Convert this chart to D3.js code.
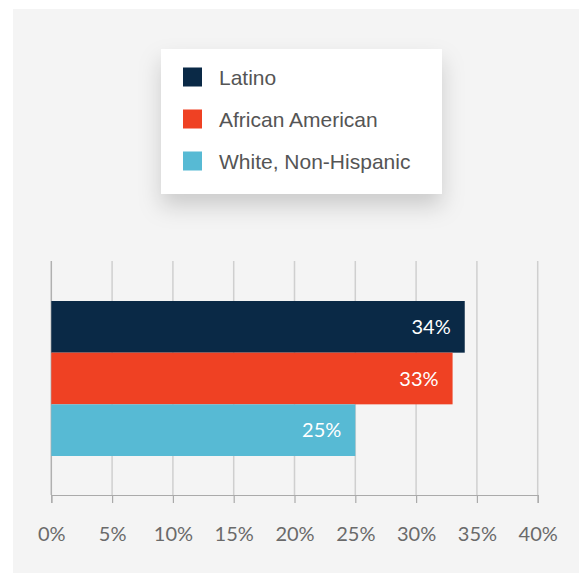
<!DOCTYPE html>
<html><head><meta charset="utf-8">
<script src="https://cdn.jsdelivr.net/npm/d3@7"></script>
<style>
html,body{margin:0;padding:0;background:#fff;}
svg{display:block;}
</style></head>
<body>
<svg id="chart" width="579" height="573"></svg>
<script>
const categories = ["Latino", "African American", "White, Non-Hispanic"];
const values = [34, 33, 25];
const colors = ["#0a2946", "#ef4123", "#57bad4"];
const tickValues = [0, 5, 10, 15, 20, 25, 30, 35, 40];

const svg = d3.select("#chart");
const defs = svg.append("defs");
const f = defs.append("filter").attr("id","shadow").attr("x","-20%").attr("y","-20%").attr("width","140%").attr("height","170%");
f.append("feDropShadow").attr("dx",0).attr("dy",12).attr("stdDeviation",11).attr("flood-color","#000").attr("flood-opacity",0.17);

svg.append("rect").attr("x",13).attr("y",9).attr("width",579-13).attr("height",573-9).attr("fill","#f4f4f4");

const x = d3.scaleLinear().domain([0,40]).range([51.3,537.7]);
const y = d3.scaleBand().domain(categories).range([301,456]).padding(0);

// gridlines
svg.append("g").selectAll("line").data(tickValues).join("line")
  .attr("x1",d=>x(d)).attr("x2",d=>x(d)).attr("y1",261).attr("y2",495)
  .attr("stroke",(d,i)=>i===0?"#b0b0b0":"#cfcfcf").attr("stroke-width",1.5);

// axis
const axis = d3.axisBottom(x).tickValues(tickValues).tickFormat(d=>d+"%").tickSize(8).tickPadding(24);
const ag = svg.append("g").attr("transform","translate(0,495)").call(axis);
ag.select(".domain").attr("stroke","#aaaaaa").attr("stroke-width",1.2);
ag.selectAll(".tick line").attr("stroke","#aaaaaa").attr("stroke-width",1.2);
ag.selectAll(".tick text").attr("fill","#6a6a6a").attr("font-family","Lato, 'Open Sans', sans-serif").attr("font-size",20);

// bars
svg.append("g").selectAll("rect").data(values).join("rect")
  .attr("x",x(0)).attr("y",(d,i)=>y(categories[i]))
  .attr("width",d=>x(d)-x(0)).attr("height",y.bandwidth())
  .attr("fill",(d,i)=>colors[i]);

svg.append("g").selectAll("text").data(values).join("text")
  .attr("x",d=>x(d)-14).attr("y",(d,i)=>y(categories[i])+y.bandwidth()/2)
  .attr("dy","0.36em").attr("text-anchor","end")
  .attr("fill","#fff").attr("font-family","Lato, 'Open Sans', sans-serif").attr("font-size",20)
  .text(d=>d+"%");

// legend
const lg = svg.append("g");
lg.append("rect").attr("x",161).attr("y",49).attr("width",281).attr("height",145).attr("fill","#fff").attr("filter","url(#shadow)");
const rows = lg.selectAll("g.row").data(categories).join("g").attr("class","row")
  .attr("transform",(d,i)=>`translate(0,${77+i*42})`);
rows.append("rect").attr("x",183).attr("y",-9.5).attr("width",19).attr("height",19).attr("fill",(d,i)=>colors[i]);
rows.append("text").attr("x",219).attr("y",0).attr("dy","0.36em")
  .attr("fill","#555").attr("font-family","'Liberation Sans', Arial, sans-serif").attr("font-size",21)
  .text(d=>d);
</script>
</body></html>
